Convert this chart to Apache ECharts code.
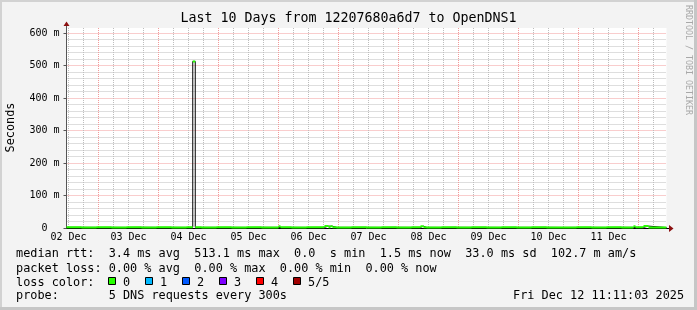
<!DOCTYPE html>
<html><head><meta charset="utf-8">
<script src="https://cdn.jsdelivr.net/npm/echarts@6/dist/echarts.min.js"></script>
<style>html,body{margin:0;padding:0;background:#f3f3f3;}#c{width:697px;height:310px;}</style>
</head><body><div id="c"></div>
<script>
// ---- data (x in hours after Fri Dec 2 11:11:03 window start, y in ms) ----
const titleText = 'Last 10 Days from 12207680a6d7 to OpenDNS1';
const dayLabels = ['02 Dec','03 Dec','04 Dec','05 Dec','06 Dec','07 Dec','08 Dec','09 Dec','10 Dec','11 Dec'];
const noonHours = [0.8158, 24.8158, 48.8158, 72.8158, 96.8158, 120.8158, 144.8158, 168.8158, 192.8158, 216.8158];
const midnightHours = [12.8158, 36.8158, 60.8158, 84.8158, 108.8158, 132.8158, 156.8158, 180.8158, 204.8158, 228.8158];
const minorHours = [0.8158, 6.8158, 18.8158, 24.8158, 30.8158, 42.8158, 48.8158, 54.8158, 66.8158, 72.8158,
  78.8158, 90.8158, 96.8158, 102.8158, 114.8158, 120.8158, 126.8158, 138.8158, 144.8158, 150.8158,
  162.8158, 168.8158, 174.8158, 186.8158, 192.8158, 198.8158, 210.8158, 216.8158, 222.8158, 234.8158];
const yMajorTicks = [0, 100, 200, 300, 400, 500, 600];
const yMinorTicks = [20, 40, 60, 80, 120, 140, 160, 180, 220, 240, 260, 280, 320, 340, 360, 380,
  420, 440, 460, 480, 520, 540, 560, 580];
// median rtt: start hour of each sample interval and its value (ms)
const medianHours = [0, 6, 12, 18, 24, 30, 36, 42, 48, 50.5, 51.5, 54, 60, 66, 72, 78, 84.8, 85.6, 90, 96,
  103.2, 104.8, 105.6, 106.4, 108, 114, 120, 126, 132, 138, 141.6, 142.8, 144, 150, 156, 162, 168, 174,
  180, 186, 192, 198, 204, 210, 216, 222, 226.8, 227.6, 230.8, 232.8];
const medianMs = [2.1, 1.9, 2.0, 1.8, 2.2, 1.9, 2.0, 1.8, 2.1, 513.1, 2.0, 1.9, 2.0, 1.8, 2.1, 1.9, 5.5, 2.0, 1.8, 2.0,
  5.8, 2.1, 5.5, 2.0, 1.9, 2.0, 1.8, 2.1, 1.9, 2.0, 5.6, 2.0, 1.8, 2.1, 1.9, 2.0, 1.8, 2.0,
  1.9, 2.1, 1.8, 1.9, 2.0, 1.8, 2.1, 1.9, 5.5, 2.0, 5.8, 1.5];
const windowHours = 240;
const yMax = 616;
const legendLines = [
  'median rtt:  3.4 ms avg  513.1 ms max  0.0  s min  1.5 ms now  33.0 ms sd  102.7 m am/s',
  'packet loss: 0.00 % avg  0.00 % max  0.00 % min  0.00 % now',
  'loss color:',
  'probe:       5 DNS requests every 300s'
];
const lossLabels = ['0', '1', '2', '3', '4', '5/5'];
const lossColors = ['#26ff00', '#00b8ff', '#0059ff', '#7e00ff', '#ff0000', '#a00000'];
const stampText = 'Fri Dec 12 11:11:03 2025';
const sideText = 'RRDTOOL / TOBI OETIKER';

// ---- build series data ----
const blackLine = medianHours.map((h, i) => [h, medianMs[i]]);
blackLine.push([windowHours, medianMs[medianMs.length - 1]]);
const greenSegs = [];
medianHours.forEach((h, i) => {
  const end = i + 1 < medianHours.length ? medianHours[i + 1] : windowHours;
  greenSegs.push([h, medianMs[i]], [end, medianMs[i]], [end, null]);
});

const MONO = '"DejaVu Sans Mono", monospace';
const G = { left: 66.5, top: 28, width: 600, height: 200 };
const fmtY = v => (v === 0 ? '0  ' : v + ' m');
const fmtX = v => { for (let i = 0; i < noonHours.length; i++) if (Math.abs(noonHours[i] - v) < 0.01) return dayLabels[i]; return ''; };

const graphics = [
  { type: 'rect', shape: { x: 0, y: 0, width: 697, height: 2 }, style: { fill: '#d2d2d2' }, silent: true },
  { type: 'rect', shape: { x: 0, y: 0, width: 2, height: 310 }, style: { fill: '#d2d2d2' }, silent: true },
  { type: 'rect', shape: { x: 0, y: 307, width: 697, height: 3 }, style: { fill: '#c6c6c6' }, silent: true },
  { type: 'rect', shape: { x: 694, y: 0, width: 3, height: 310 }, style: { fill: '#c6c6c6' }, silent: true },
  { type: 'text', x: 348.5, y: 19, style: { text: titleText, fontSize: 13.3, fontFamily: MONO, fill: '#000', align: 'center', verticalAlign: 'middle' } },
  { type: 'text', x: 11, y: 127.5, rotation: Math.PI / 2, style: { text: 'Seconds', fontSize: 11.85, fontFamily: MONO, fill: '#000', align: 'center', verticalAlign: 'middle' } },
  { type: 'text', x: 688, y: 60, rotation: -Math.PI / 2, style: { text: sideText, fontSize: 8.3, fontFamily: MONO, fill: '#a8a8a8', align: 'center', verticalAlign: 'middle' } },
  { type: 'line', shape: { x1: 666.5, y1: 228.5, x2: 670, y2: 228.5 }, style: { stroke: '#000', lineWidth: 1 }, z: 10 },
  { type: 'polygon', shape: { points: [[669, 225], [673.5, 228.5], [669, 232]] }, style: { fill: '#8b1010' }, z: 10 },
  { type: 'line', shape: { x1: 66.5, y1: 28, x2: 66.5, y2: 25 }, style: { stroke: '#555', lineWidth: 1 }, z: 10 },
  { type: 'polygon', shape: { points: [[63.5, 26], [66.5, 21.5], [69.5, 26]] }, style: { fill: '#8b1010' }, z: 10 },
  { type: 'text', x: 513, y: 296, style: { text: stampText, fontSize: 11.85, fontFamily: MONO, fill: '#000', align: 'left', verticalAlign: 'middle' } }
];
const lineYs = [254, 268.5, 282.5, 296];
legendLines.forEach((t, i) => graphics.push({ type: 'text', x: 16, y: lineYs[i], style: { text: t, fontSize: 11.85, fontFamily: MONO, fill: '#000', align: 'left', verticalAlign: 'middle' } }));
lossLabels.forEach((t, i) => {
  const bx = 108.5 + i * 37;
  graphics.push({ type: 'rect', shape: { x: bx, y: 277.5, width: 7, height: 7 }, style: { fill: lossColors[i], stroke: '#000', lineWidth: 1 } });
  graphics.push({ type: 'text', x: bx + 14.5, y: 282.5, style: { text: t, fontSize: 11.85, fontFamily: MONO, fill: '#000', align: 'left', verticalAlign: 'middle' } });
});

const chart = echarts.init(document.getElementById('c'), null, { renderer: 'canvas' });
chart.setOption({
  animation: false,
  backgroundColor: '#f3f3f3',
  grid: Object.assign({ show: true, backgroundColor: '#ffffff', borderWidth: 0 }, G),
  xAxis: [
    { type: 'value', min: 0, max: windowHours, position: 'bottom',
      axisLine: { show: false }, axisLabel: { show: false }, axisTick: { show: false, customValues: minorHours },
      splitLine: { show: true, lineStyle: { color: '#bdbdbd', type: [1, 1], width: 1 } } },
    { type: 'value', min: 0, max: windowHours, position: 'bottom',
      axisLine: { show: true, onZero: false, lineStyle: { color: '#000', width: 1 } },
      axisTick: { show: false, customValues: midnightHours },
      axisLabel: { show: true, customValues: noonHours, formatter: fmtX, margin: 4, fontSize: 10, fontFamily: MONO, color: '#000' },
      splitLine: { show: true, lineStyle: { color: '#f29a9a', type: [1, 1], width: 1 } } }
  ],
  yAxis: [
    { type: 'value', min: 0, max: yMax, position: 'left',
      axisLine: { show: false }, axisLabel: { show: false }, axisTick: { show: false, customValues: yMinorTicks },
      splitLine: { show: true, lineStyle: { color: '#bdbdbd', type: [1, 1], width: 1 } } },
    { type: 'value', min: 0, max: yMax, position: 'left',
      axisLine: { show: true, onZero: false, lineStyle: { color: '#555', width: 1 } },
      axisTick: { show: true, customValues: yMajorTicks, length: 3, lineStyle: { color: '#555' } },
      axisLabel: { show: true, customValues: yMajorTicks, formatter: fmtY, margin: 7, fontSize: 10, fontFamily: MONO, color: '#000' },
      splitLine: { show: true, lineStyle: { color: '#f29a9a', type: [1, 1], width: 1 } } }
  ],
  series: [
    { type: 'line', xAxisIndex: 1, yAxisIndex: 1, data: blackLine, step: 'end', showSymbol: false, symbol: 'none',
      lineStyle: { color: '#000', width: 1 }, z: 3, silent: true },
    { type: 'line', xAxisIndex: 1, yAxisIndex: 1, data: greenSegs, showSymbol: false, symbol: 'none', connectNulls: false,
      lineStyle: { color: '#26ff00', width: 2 }, z: 4, silent: true }
  ],
  graphic: graphics
});
</script></body></html>
